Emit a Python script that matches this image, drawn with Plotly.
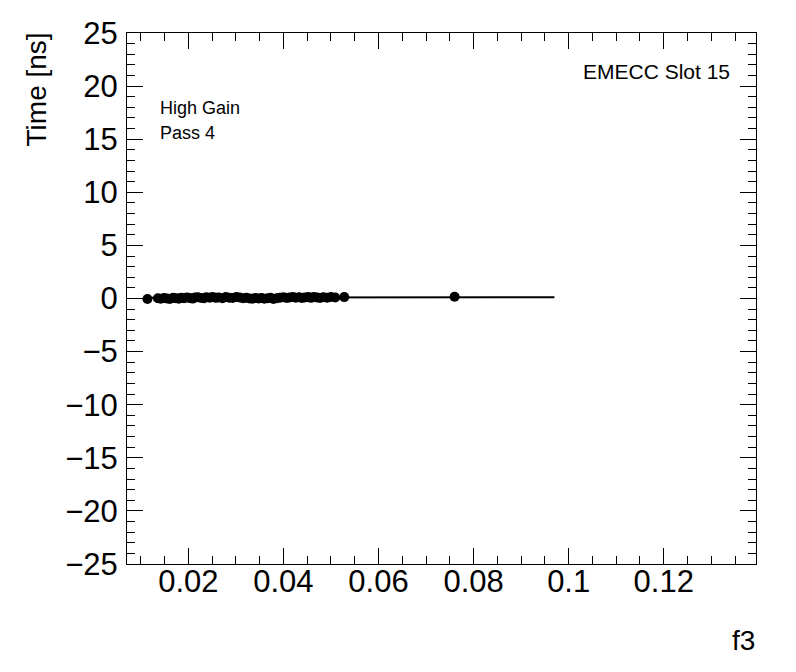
import plotly.graph_objects as go

# data (f3 vs Time [ns])
f3_values = [0.0114, 0.0136, 0.0142, 0.0149, 0.0155, 0.0161, 0.0168, 0.0174, 0.0180, 0.0185,
             0.0191, 0.0197, 0.0203, 0.0209, 0.0214, 0.0220, 0.0227, 0.0233, 0.0238, 0.0245,
             0.0251, 0.0258, 0.0264, 0.0272, 0.0279, 0.0286, 0.0293, 0.0301, 0.0308, 0.0315,
             0.0322, 0.0329, 0.0335, 0.0341, 0.0348, 0.0354, 0.0360, 0.0367, 0.0373, 0.0379,
             0.0386, 0.0393, 0.0400, 0.0407, 0.0413, 0.0420, 0.0426, 0.0433, 0.0439, 0.0445,
             0.0452, 0.0458, 0.0464, 0.0471, 0.0477, 0.0484, 0.0492, 0.0500, 0.0509, 0.0528,
             0.0760]
time_values = [-0.05, 0.02, -0.03, 0.05, 0.01, -0.04, 0.06, 0.02, -0.02, 0.08,
               0.03, 0.10, 0.04, -0.01, 0.09, 0.12, 0.05, 0.02, 0.11, 0.07,
               0.15, 0.06, 0.10, 0.03, 0.13, 0.08, 0.04, 0.14, 0.09, 0.02,
               0.06, 0.01, -0.02, 0.04, 0.00, 0.05, -0.03, 0.02, 0.07, -0.04,
               0.03, 0.08, 0.12, 0.05, 0.10, 0.14, 0.07, 0.11, 0.04, 0.09,
               0.13, 0.06, 0.15, 0.10, 0.05, 0.12, 0.08, 0.14, 0.10, 0.13,
               0.17]
fit_x = [0.0114, 0.0970]
fit_y = [0.08, 0.11]

x_range = [0.0071, 0.1394]
y_range = [-25, 25]
x_tickvals = [0.02, 0.04, 0.06, 0.08, 0.1, 0.12]
x_ticktext = ["0.02", "0.04", "0.06", "0.08", "0.1", "0.12"]
y_tickvals = [-25, -20, -15, -10, -5, 0, 5, 10, 15, 20, 25]
y_ticktext = ["\u221225", "\u221220", "\u221215", "\u221210", "\u22125",
              "0", "5", "10", "15", "20", "25"]

FONT = "Liberation Sans, Arial, Helvetica, sans-serif"

fig = go.Figure()
fig.add_trace(go.Scatter(x=fit_x, y=fit_y, mode="lines",
                         line=dict(color="black", width=2), showlegend=False))
fig.add_trace(go.Scatter(x=f3_values, y=time_values, mode="markers",
                         marker=dict(color="black", size=10, symbol="circle"),
                         showlegend=False))

axis_common = dict(showgrid=False, zeroline=False, showline=True, linecolor="black",
                   linewidth=1, mirror="allticks", ticks="inside", ticklen=16,
                   tickcolor="black", tickwidth=1, automargin=False,
                   tickfont=dict(family=FONT, size=31, color="black"))

fig.update_xaxes(range=x_range, tickmode="array",
                 tickvals=x_tickvals, ticktext=x_ticktext,
                 minor=dict(dtick=0.005, tick0=0, ticks="inside", ticklen=8,
                            tickcolor="black", tickwidth=1, showgrid=False),
                 ticklabelstandoff=-10,
                 **axis_common)
fig.update_yaxes(range=y_range, tickmode="array",
                 tickvals=y_tickvals, ticktext=y_ticktext,
                 minor=dict(dtick=1, tick0=0, ticks="inside", ticklen=8,
                            tickcolor="black", tickwidth=1, showgrid=False),
                 ticklabelstandoff=2,
                 **axis_common)

fig.add_annotation(text="Time [ns]", xref="paper", yref="paper", x=-0.1445, y=1.005,
                   textangle=-90, showarrow=False, xanchor="center", yanchor="top",
                   font=dict(family=FONT, size=28, color="black"))
fig.add_annotation(text="f3", xref="paper", yref="paper", x=1.002, y=-0.145,
                   showarrow=False, xanchor="right", yanchor="middle",
                   font=dict(family=FONT, size=28, color="black"))
fig.add_annotation(text="EMECC Slot 15", xref="paper", yref="paper", x=0.962, y=0.9266,
                   showarrow=False, xanchor="right", yanchor="middle",
                   font=dict(family=FONT, size=21, color="black"))
fig.add_annotation(text="High Gain", xref="paper", yref="paper", x=0.049, y=0.8588,
                   showarrow=False, xanchor="left", yanchor="middle",
                   font=dict(family=FONT, size=18, color="black"))
fig.add_annotation(text="Pass 4", xref="paper", yref="paper", x=0.049, y=0.811,
                   showarrow=False, xanchor="left", yanchor="middle",
                   font=dict(family=FONT, size=18, color="black"))

# the page body has an 8px margin, so the figure is 8px smaller and margins compensate
fig.update_layout(width=788, height=664, plot_bgcolor="white", paper_bgcolor="white",
                  margin=dict(l=119, r=40, t=25, b=108, autoexpand=False),
                  showlegend=False)

fig.write_html("out.html")
